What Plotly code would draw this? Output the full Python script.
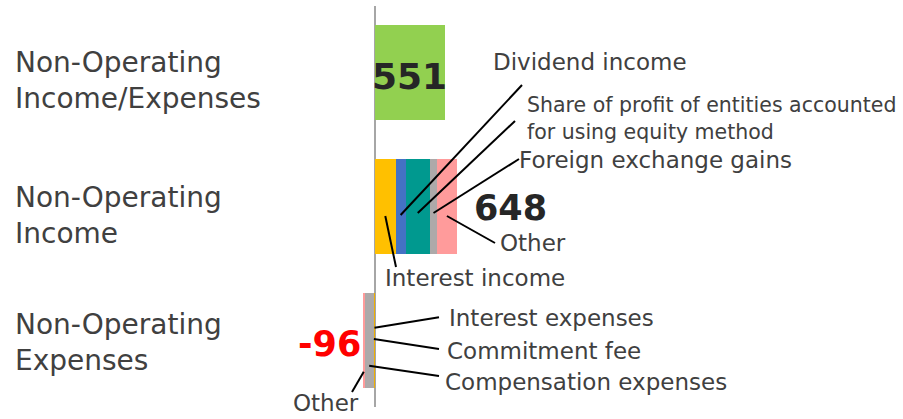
import plotly.graph_objects as go
import numpy as np

# ---------------- data ----------------
categories = ["Non-Operating<br>Income/Expenses", "Non-Operating<br>Income", "Non-Operating<br>Expenses"]
net_value = 551
income_items = ["Interest income", "Dividend income",
                "Share of profit of entities accounted<br>for using equity method",
                "Foreign exchange gains", "Other"]
income_values = [163, 80, 192, 57, 156]
income_colors = ["#FFC000", "#4472C4", "#00998F", "#ADA9A9", "#FF9B9B"]
expense_items = ["Interest expenses", "Commitment fee", "Compensation expenses", "Other"]
expense_values = [-8, -2, -72, -14]
expense_colors = ["#F0B000", "#4472C4", "#ADA9A9", "#FF9B9B"]

# ---------------- geometry helpers (pixel -> data) ----------------
W, H = 903, 419
S = 0.1262            # px per unit
X0 = 375              # pixel of zero
T, B = 6, 12
PH = H - T - B
def dx(px):
    return (px - X0) / S
def dy(py):
    return (py - T) / (PH / 3.0) - 0.5
def py_paper(py):
    return (H - B - py) / PH

FONT = "DejaVu Sans"
TXT = "#404040"
fig = go.Figure()
BW = 0.71

fig.add_trace(go.Bar(y=[0], x=[net_value], orientation="h", width=BW,
                     marker=dict(color="#92D050", line=dict(width=0)), showlegend=False))
for name, v, c in zip(income_items, income_values, income_colors):
    fig.add_trace(go.Bar(y=[1], x=[v], orientation="h", width=BW, name=name,
                         marker=dict(color=c, line=dict(width=0)), showlegend=False))
for name, v, c in zip(expense_items, expense_values, expense_colors):
    fig.add_trace(go.Bar(y=[2], x=[v], orientation="h", width=BW, name=name,
                         marker=dict(color=c, line=dict(width=0)), showlegend=False))

inc_total = int(sum(income_values))
exp_total = int(sum(expense_values))
inc_cum = np.cumsum([0] + income_values)
inc_mid = [(inc_cum[i] + inc_cum[i + 1]) / 2 for i in range(len(income_values))]
exp_cum = np.cumsum([0] + expense_values)
exp_mid = [(exp_cum[i] + exp_cum[i + 1]) / 2 for i in range(len(expense_values))]

shapes = []
def leader(x0, y0, px1, py1):
    shapes.append(dict(type="line", xref="x", yref="y", x0=x0, y0=y0,
                       x1=dx(px1), y1=dy(py1), line=dict(color="black", width=2)))

# income leaders: (start y pixel, end pixel)
inc_leaders = [(216, 396, 267), (215, 522, 85), (213, 515, 121), (213, 519, 159), (216, 495, 243)]
for m, (sy, ex, ey) in zip(inc_mid, inc_leaders):
    leader(m, dy(sy), ex, ey)
exp_leaders = [(327.7, 439, 317.3), (339, 439, 349), (365.7, 439, 376), (371.7, 352, 392)]
for m, (sy, ex, ey) in zip(exp_mid, exp_leaders):
    leader(m, dy(sy), ex, ey)

ann = []
def label(text, px, py, size=23, anchor="left", color=TXT, bold=False, family=FONT):
    ann.append(dict(text=("<b>%s</b>" % text) if bold else text, xref="paper", yref="paper",
                    x=px / W, y=py_paper(py), xanchor=anchor, yanchor="middle",
                    showarrow=False, align="left",
                    font=dict(family=family, size=size, color=color)))

# category labels
cat_y = [80, 215, 342]
for c, y in zip(categories, cat_y):
    label(c, 13, y, size=28)

# item labels
label(income_items[0], 383, 278)
label(income_items[1], 491, 62)
label(income_items[2], 525, 118, size=20.5)
label(income_items[3], 517, 160)
label(income_items[4], 498, 243)
label(expense_items[0], 447, 318)
label(expense_items[1], 445, 351)
label(expense_items[2], 443, 382)
label(expense_items[3], 291, 403)

# values
ann.append(dict(text="<b>%d</b>" % net_value, xref="x", yref="y", x=net_value / 2, y=dy(76),
                xanchor="center", yanchor="middle", showarrow=False,
                font=dict(family=FONT, size=36, color="#262626")))
ann.append(dict(text="<b>%d</b>" % inc_total, xref="x", yref="y", x=inc_total, y=dy(208),
                xanchor="left", yanchor="middle", xshift=15, showarrow=False,
                font=dict(family=FONT, size=35, color="#262626")))
ann.append(dict(text="<b>%d</b>" % exp_total, xref="x", yref="y", x=exp_total, y=dy(344),
                xanchor="right", yanchor="middle", xshift=0, showarrow=False,
                font=dict(family=FONT, size=35, color="#FF0000")))

fig.update_layout(
    width=W, height=H, barmode="relative", bargap=0,
    margin=dict(l=0, r=0, t=T, b=B),
    paper_bgcolor="white", plot_bgcolor="white",
    xaxis=dict(range=[dx(0), dx(W)], showgrid=False, showticklabels=False, ticks="",
               zeroline=True, zerolinecolor="#A6A6A6", zerolinewidth=1.5, fixedrange=True),
    yaxis=dict(range=[2.5, -0.5], showgrid=False, showticklabels=False, ticks="",
               zeroline=False, fixedrange=True),
    shapes=shapes, annotations=ann, showlegend=False,
)
fig.write_html("out.html", config={"displayModeBar": False},
               post_script="document.body.style.margin='0px';document.body.style.overflow='hidden';")
